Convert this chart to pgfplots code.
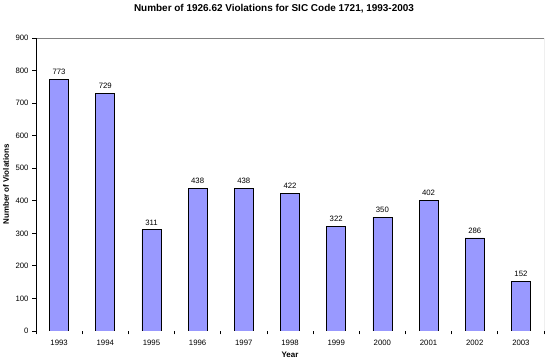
\documentclass[border=0pt]{standalone}
\usepackage{pgfplots}
\pgfplotsset{compat=1.18}
\usepackage{fontspec}
\setmainfont{Liberation Sans}
\definecolor{barfill}{HTML}{9999FF}
\definecolor{frame}{HTML}{808080}
\begin{document}
\begin{tikzpicture}
\useasboundingbox (-36bp,-31bp) rectangle (513bp,331bp);
\begin{axis}[
  at={(0,0)}, anchor=south west,
  scale only axis,
  width=508bp, height=293bp,
  xmin=-0.5, xmax=10.5,
  ymin=0, ymax=900,
  ytick={0,100,...,900},
  xtick={0,...,10},
  xticklabels={1993,1994,1995,1996,1997,1998,1999,2000,2001,2002,2003},
  minor xtick={-0.5,0.5,...,10.5},
  major x tick style={draw=none},
  minor x tick style={black, line width=0.8pt},
  tick align=outside,
  major tick length=3.5bp,
  minor tick length=3.5bp,
  ytick style={black, line width=0.8pt},
  xtick pos=bottom, ytick pos=left,
  axis line style={draw=none},
  tick label style={font=\fontsize{7.8}{9}\selectfont},
  /pgf/number format/assume math mode=true,
  yticklabel style={xshift=-0.5bp},
  xticklabel style={yshift=-2bp},
  title={Number of 1926.62 Violations for SIC Code 1721, 1993-2003},
  title style={font=\bfseries\fontsize{10}{12}\selectfont, at={(axis description cs:0.4685,1)}, anchor=center, yshift=23bp},
  xlabel={Year},
  xlabel style={font=\bfseries\fontsize{8}{9}\selectfont, at={(axis description cs:0.5,0)}, anchor=center, yshift=-24bp},
  ylabel={Number of Violations},
  ylabel style={font=\bfseries\fontsize{8}{9}\selectfont, at={(axis description cs:-0.059,0.5)}, anchor=center},
  nodes near coords,
  every node near coord/.append style={font=\fontsize{7.8}{9}\selectfont, yshift=1bp},
  /pgf/number format/.cd, fixed, 1000 sep={},
]
\draw[frame, line width=0.8pt] (rel axis cs:0,1) -- (rel axis cs:1,1) -- (rel axis cs:1,0);
\addplot[ybar, bar width=19bp, fill=barfill, draw=black, line width=0.6pt] coordinates {
(0,773) (1,729) (2,311) (3,438) (4,438) (5,422) (6,322) (7,350) (8,402) (9,286) (10,152)
};
\draw[black, line width=0.9pt] (rel axis cs:0,1) -- (rel axis cs:0,0) -- (rel axis cs:1,0);
\end{axis}
\end{tikzpicture}
\end{document}
